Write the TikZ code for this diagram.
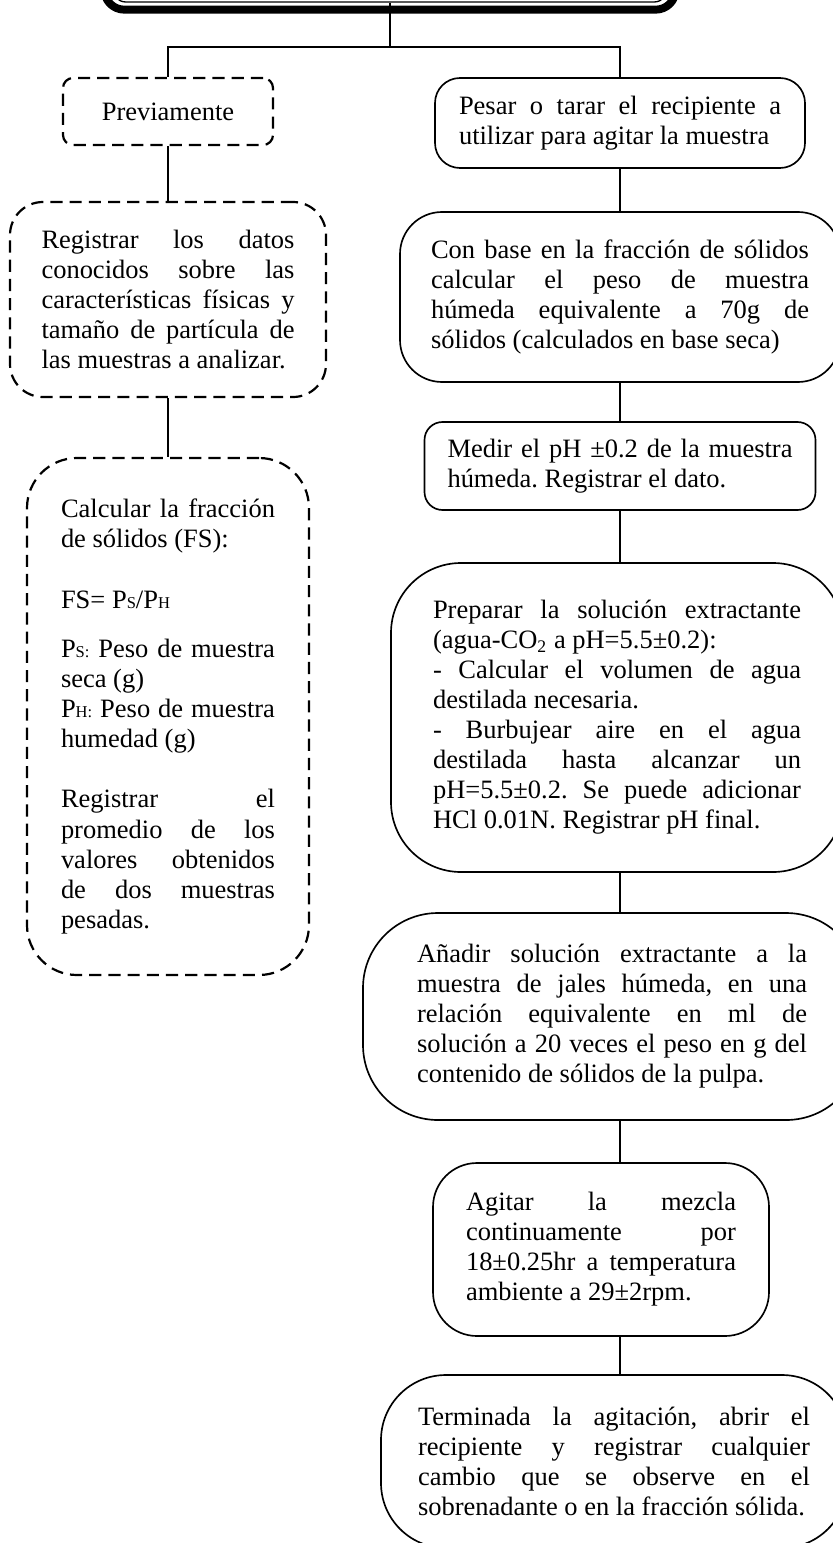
\documentclass[tikz,border=0pt]{standalone}
\usepackage{fontspec}
\setmainfont{Liberation Serif}
\newlength{\px}
\setlength{\px}{0.453pt}
\newcommand{\smallidx}[1]{{\fontsize{7.5}{8}\selectfont #1}}
\tolerance=10000
\hyphenpenalty=10000
\exhyphenpenalty=10000
\frenchspacing

\begin{document}
\begin{tikzpicture}[
        x=0.453pt, y=-0.453pt,
        stepText/.style={
            font=\fontsize{12}{13.6}\selectfont, align=justify, inner sep=0pt
        },
        stepBox/.style={
            stepText, rectangle, draw=black, line width=0.75pt
        },
        noteBox/.style={
            stepText, rectangle, draw=black, line width=1pt,
            dash pattern=on 5.5pt off 3.2pt
        },
        titleBox/.style={
            rectangle, rounded corners=14\px, draw=black, line width=0.6pt,
            minimum width=556\px, minimum height=82\px
        },
        titleFrame/.style={
            rounded corners=20\px, draw=black, line width=3.6pt
        },
        link/.style={
            draw=black, line width=0.6pt
        }
    ]
        \useasboundingbox (0,0) rectangle (833,1543);
        \clip (0,0) rectangle (833,1543);
        \fill[white] (0,0) rectangle (833,1543);

        % Title (cut by the page edge)
        \node (title) [titleBox] at (390,-39) {};

        % Left column
        \node (prev) [noteBox, rounded corners=10\px, minimum width=210\px, minimum height=67\px, align=center] at (168,111.5) {Previamente};
        \node (reg) [noteBox, rounded corners=33\px, minimum width=316\px, minimum height=195\px, text width=253\px] at (168,299.5)
            {Registrar los datos\linebreak conocidos sobre las\linebreak características físicas y\linebreak tamaño de partícula de\linebreak las muestras a analizar.};
        \node (calc) [noteBox, rounded corners=50\px, minimum width=282\px, minimum height=517\px, text width=214\px] at (168,716.5)
            {Calcular la fracción\linebreak de sólidos (FS):\par\vspace{13.6pt}
             FS= P\smallidx{S}/P\smallidx{H}\par\vspace{9pt}
             P\smallidx{S:} Peso de muestra\linebreak seca (g)\par
             P\smallidx{H:} Peso de muestra\linebreak humedad (g)\par\vspace{13.6pt}
             Registrar el\linebreak promedio de los\linebreak valores obtenidos\linebreak de dos muestras\linebreak pesadas.};

        % Right column
        \node (pesar) [stepBox, rounded corners=25\px, minimum width=370\px, minimum height=90\px, text width=322\px] at (620,123)
            {Pesar o tarar el recipiente a\linebreak utilizar para agitar la muestra};
        \node (conbase) [stepBox, rounded corners=42\px, minimum width=440\px, minimum height=170\px, text width=378\px] at (620,297)
            {Con base en la fracción de sólidos\linebreak calcular el peso de muestra\linebreak húmeda equivalente a 70g de\linebreak sólidos (calculados en base seca)};
        \node (medir) [stepBox, rounded corners=18\px, minimum width=391\px, minimum height=88\px, text width=345\px] at (620,466)
            {Medir el pH ±0.2 de la muestra\linebreak húmeda. Registrar el dato.};
        \node (prep) [stepBox, rounded corners=70\px, minimum width=452\px, minimum height=309\px, text width=368\px] at (617,717.5)
            {Preparar la solución extractante\linebreak (agua-CO\textsubscript{2} a pH=5.5±0.2):\par
             - Calcular el volumen de agua\linebreak destilada necesaria.\par
             - Burbujear aire en el agua\linebreak destilada hasta alcanzar un\linebreak pH=5.5±0.2. Se puede adicionar\linebreak HCl 0.01N. Registrar pH final.};
        \node (anadir) [stepBox, rounded corners=75\px, minimum width=498\px, minimum height=207\px, text width=390\px] at (612,1016.5)
            {Añadir solución extractante a la\linebreak muestra de jales húmeda, en una\linebreak relación equivalente en ml de\linebreak solución a 20 veces el peso en g del\linebreak contenido de sólidos de la pulpa.};
        \node (agitar) [stepBox, rounded corners=44\px, minimum width=336\px, minimum height=173\px, text width=270\px] at (601,1249.5)
            {Agitar la mezcla\linebreak continuamente por\linebreak 18±0.25hr a temperatura\linebreak ambiente a 29±2rpm.};
        \node (termin) [stepBox, rounded corners=65\px, minimum width=466\px, minimum height=173\px, text width=392\px] at (614,1461.5)
            {Terminada la agitación, abrir el\linebreak recipiente y registrar cualquier\linebreak cambio que se observe en el\linebreak sobrenadante o en la fracción sólida.};

        % Connectors
        \coordinate (split) at (390,47);
        \draw [link] (title.south) -- (split);
        \draw [link] (split) -| (prev.north);
        \draw [link] (split) -| (pesar.north);
        \draw [link] (prev.south) -- (reg.north);
        \draw [link] (reg.south) -- (calc.north);
        \draw [link] (pesar.south) -- (conbase.north);
        \draw [link] (conbase.south) -- (medir.north);
        \draw [link] (medir.south) -- (medir.south |- prep.north);
        \draw [link] (medir.south |- prep.south) -- (medir.south |- anadir.north);
        \draw [link] (medir.south |- anadir.south) -- (medir.south |- agitar.north);
        \draw [link] (medir.south |- agitar.south) -- (medir.south |- termin.north);

        % Thick outer frame of the title
        \draw [titleFrame] ([shift={(-7,7)}]title.south west) rectangle ([shift={(7,-7)}]title.north east);
    \end{tikzpicture}
\end{document}
